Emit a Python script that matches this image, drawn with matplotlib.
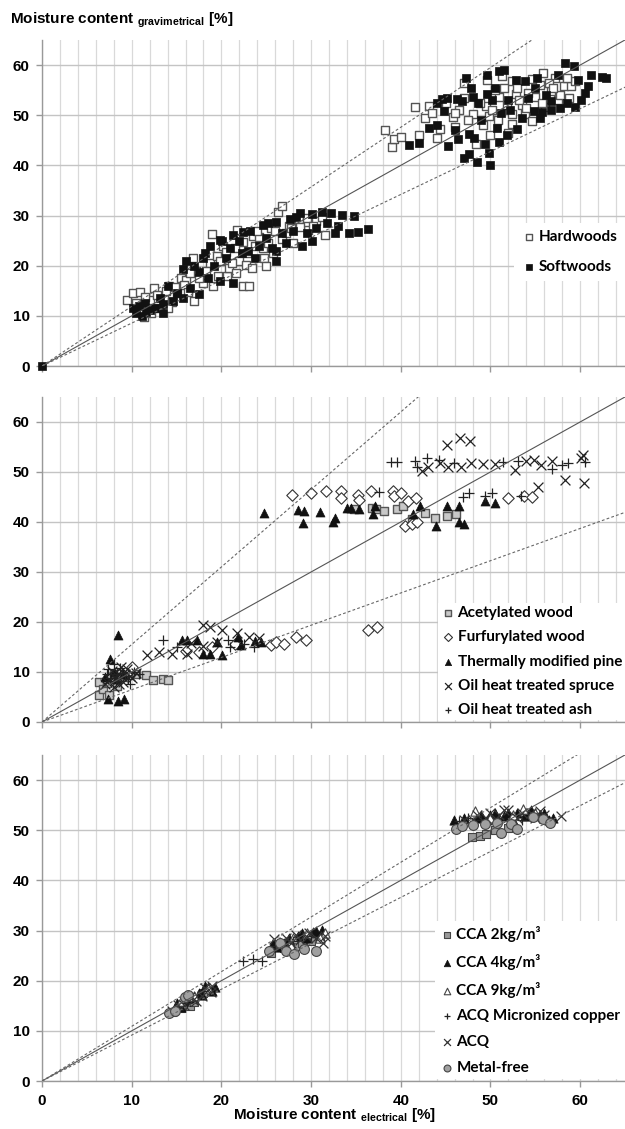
import matplotlib
matplotlib.use("Agg")
import matplotlib.pyplot as plt
from matplotlib.ticker import MultipleLocator

# ---- panel 1: untreated wood
hw_x = [9.5, 10.1, 10.9, 11.4, 11.0, 12.0, 12.5, 13.0, 13.6, 14.2, 14.5, 15.0, 15.5, 16.1, 16.8,
        17.2, 18.0, 18.7, 18.9, 19.1, 19.5, 20.2, 20.6, 20.9, 21.7, 22.0, 22.4, 22.4, 23.1, 22.8,
        23.5, 24.6, 24.8, 25.5, 26.3, 26.8, 26.8, 27.5, 28.6, 29.7, 30.5, 31.2, 31.6, 28.0, 25.0,
        11.5, 12.8, 13.8, 14.8, 15.8, 16.5, 17.5, 18.3, 19.8, 20.5, 21.2, 21.5, 22.9, 23.8, 24.2,
        25.2, 25.8, 26.0, 27.2, 27.8, 28.8, 29.5, 30.2, 24.0, 10.5, 12.2, 14.0, 16.3, 17.0, 19.6,
        21.6, 23.4,
        38.2, 39.0, 39.3, 40.0, 41.6, 43.1, 42.7, 44.4, 45.8, 46.1, 47.0, 48.0, 48.4, 49.5, 49.6,
        49.8, 51.0, 51.3, 52.4, 52.4, 52.4, 52.8, 53.9, 54.6, 54.6, 55.0, 55.9, 56.1, 56.8, 57.2,
        58.2, 59.0, 59.4, 57.5, 53.5, 50.5, 47.0, 44.0,
        45.0, 46.5, 48.8, 50.2, 51.8, 53.0, 54.2, 55.5, 56.5, 57.8, 58.5, 55.8, 53.2, 50.8, 49.2,
        47.5, 46.0, 51.5, 57.0, 58.8, 52.0, 50.0, 54.0, 42.0, 43.5]
hw_y = [13.2, 14.5, 14.8, 9.8, 12.0, 13.1, 15.5, 11.5, 13.3, 16.0, 12.8, 14.6, 17.5, 17.2, 21.5,
        19.0, 16.5, 20.5, 26.4, 15.9, 22.0, 24.0, 17.9, 19.5, 27.2, 21.0, 24.8, 15.9, 15.9, 20.2,
        26.0, 23.5, 21.5, 27.5, 30.7, 32.0, 25.4, 28.0, 29.4, 27.1, 29.0, 29.7, 26.1, 24.5, 20.0,
        13.8, 14.2, 15.0, 15.8, 16.2, 18.5, 17.5, 19.0, 21.0, 22.8, 20.5, 23.5, 22.5, 24.0, 25.8,
        24.5, 22.5, 27.0, 26.5, 27.5, 27.8, 29.5, 28.0, 27.0, 12.5, 10.5, 11.5, 14.8, 13.0, 18.0,
        18.5, 19.5,
        47.1, 43.6, 45.2, 45.6, 51.7, 51.9, 49.5, 47.3, 49.6, 47.6, 56.5, 50.3, 44.3, 51.9, 57.0,
        49.9, 53.6, 57.8, 56.8, 48.3, 50.3, 54.2, 50.3, 48.9, 57.2, 53.6, 58.5, 51.6, 54.9, 57.5,
        55.9, 55.9, 56.9, 53.0, 52.0, 55.0, 53.5, 45.5,
        52.5, 51.0, 52.5, 51.0, 52.0, 55.5, 54.5, 56.0, 56.5, 54.0, 57.5, 52.5, 53.0, 49.0, 48.0,
        49.0, 50.5, 55.5, 55.5, 53.5, 46.5, 46.0, 51.5, 46.0, 50.5]
sw_x = [0.0, 10.1, 10.5, 11.6, 12.0, 13.5, 13.5, 15.7, 15.7, 16.1, 17.5, 17.5, 17.9, 18.7, 19.8,
        19.8, 20.1, 21.3, 21.3, 22.3, 22.4, 23.8, 24.6, 26.1, 26.1, 26.1, 27.6, 28.3, 29.0, 30.1,
        30.1, 31.2, 32.7, 33.4, 34.2, 34.8, 36.4, 14.0, 25.0,
        10.8, 11.2, 12.6, 13.2, 14.6, 15.0, 16.5, 17.0, 18.2, 18.5, 19.2, 20.5, 21.0, 22.0, 23.0,
        23.2, 24.2, 25.2, 25.6, 26.8, 27.2, 28.0, 28.8, 29.5, 30.6, 31.8, 32.2, 33.0, 35.2, 11.5,
        40.9, 42.0, 43.1, 44.6, 44.8, 45.3, 46.3, 46.4, 47.3, 47.6, 47.6, 48.1, 48.5, 49.4, 49.6,
        49.6, 50.0, 50.7, 50.9, 51.0, 51.5, 53.0, 53.9, 54.8, 55.7, 56.8, 56.8, 58.3, 59.3, 59.4,
        60.1, 60.9, 62.4, 62.9, 52.0, 55.0,
        44.0, 45.2, 46.8, 47.8, 48.6, 49.0, 50.2, 50.5, 51.2, 52.2, 52.8, 53.5, 54.2, 55.2, 55.5,
        56.2, 57.5, 57.8, 58.5, 59.8, 60.5, 61.2, 48.2, 49.8, 51.8, 46.0, 47.0, 44.0]
sw_y = [0.0, 11.5, 10.5, 10.8, 11.1, 10.5, 12.3, 13.6, 19.4, 21.0, 14.3, 18.7, 21.6, 23.9, 16.9,
        25.2, 24.9, 16.6, 26.2, 22.6, 26.8, 21.6, 28.1, 28.8, 22.9, 20.9, 29.4, 29.8, 23.9, 30.4,
        24.9, 30.8, 26.5, 30.1, 26.5, 30.0, 27.4, 16.0, 25.5,
        12.0, 10.0, 11.5, 13.5, 13.0, 14.5, 15.5, 20.0, 22.5, 17.5, 20.0, 21.5, 23.5, 25.0, 23.0,
        27.0, 24.0, 28.5, 23.5, 26.5, 24.5, 27.0, 30.5, 26.5, 27.5, 28.5, 30.5, 28.0, 26.8, 12.5,
        44.1, 44.5, 47.5, 53.3, 50.9, 43.9, 53.3, 45.2, 57.4, 42.3, 46.2, 53.6, 40.7, 44.3, 58.1,
        54.2, 40.0, 47.5, 58.8, 44.6, 59.1, 47.2, 56.8, 50.9, 50.7, 52.9, 51.0, 60.5, 59.8, 51.7,
        53.0, 55.9, 57.6, 57.4, 53.0, 55.5,
        52.5, 53.5, 52.8, 55.5, 52.5, 49.0, 53.0, 55.5, 50.5, 51.0, 57.0, 49.5, 53.5, 57.5, 49.5,
        54.0, 58.0, 51.5, 52.5, 57.0, 54.5, 58.0, 45.5, 42.5, 46.0, 47.0, 41.5, 48.0]

# ---- panel 2: modified wood
ac_x = [6.3, 6.3, 6.8, 7.3, 7.5, 8.4, 9.1, 10.5, 11.6, 12.4, 13.5, 14.0, 8.0,
        34.8, 36.8, 37.2, 38.1, 39.6, 40.3, 41.3, 42.7, 43.8, 45.1, 46.2]
ac_y = [8.0, 5.4, 6.5, 7.7, 5.4, 7.1, 9.0, 9.6, 9.3, 8.3, 8.6, 8.4, 9.5,
        42.5, 42.8, 42.5, 42.1, 42.5, 43.1, 40.5, 41.8, 40.8, 41.2, 41.5]
fu_x = [8.5, 10.0, 16.1, 17.5, 19.0, 21.5, 25.5, 26.1, 27.0, 28.3, 29.4, 36.4, 37.3,
        27.9, 30.0, 31.7, 33.3, 33.3, 35.2, 35.3, 36.7, 39.1, 39.3, 40.0, 40.8, 41.7, 40.5, 41.3,
        41.8, 52.0, 53.7, 54.6]
fu_y = [9.5, 11.0, 14.1, 13.9, 15.0, 15.5, 15.3, 16.0, 15.6, 16.9, 16.4, 18.3, 18.9,
        45.3, 45.8, 46.2, 46.1, 44.7, 45.4, 44.3, 46.1, 46.1, 45.1, 45.8, 44.1, 44.7, 39.2, 39.5,
        39.9, 44.8, 45.1, 44.9]
tm_x = [7.4, 8.5, 9.1, 7.6, 8.5, 8.0, 7.0, 8.3, 9.0, 15.6, 16.2, 17.3, 17.9, 18.7, 19.5, 20.1,
        21.9, 22.2, 23.7, 24.4, 24.8, 28.5, 29.2, 29.1, 31.0, 32.4, 32.7, 34.0, 34.4, 35.3, 36.9,
        37.1, 41.4, 42.1, 43.9, 45.2, 46.5, 46.5, 47.0, 49.4, 50.5]
tm_y = [4.5, 4.2, 4.5, 12.5, 17.3, 10.0, 9.0, 8.5, 9.5, 16.4, 16.4, 16.4, 13.6, 13.6, 15.9, 13.3,
        16.9, 15.3, 16.2, 15.9, 41.8, 42.4, 42.2, 39.7, 41.9, 40.0, 40.8, 42.8, 42.8, 42.5, 41.5,
        43.1, 41.5, 43.1, 39.2, 43.1, 43.1, 39.9, 39.5, 44.1, 43.8]
os_x = [7.5, 8.0, 8.5, 9.0, 9.5, 10.0, 8.8, 7.8, 7.2, 8.3, 9.2, 8.6, 9.8, 7.0, 10.5, 8.0,
        11.7, 13.0, 14.5, 16.2, 16.6, 17.9, 17.9, 18.7, 20.1, 21.7, 23.1, 24.2, 19.5,
        42.4, 43.0, 44.4, 45.1, 45.3, 46.6, 46.7, 47.7, 47.8, 49.2, 52.7, 54.0, 54.9, 55.3, 55.6,
        56.9, 58.3, 60.1, 60.3, 60.4, 50.5]
os_y = [8.5, 7.0, 9.5, 8.0, 10.5, 8.8, 11.0, 10.2, 8.0, 8.8, 9.5, 7.5, 9.2, 7.5, 9.8, 9.0,
        13.3, 14.0, 13.6, 13.6, 15.7, 15.1, 19.3, 19.0, 18.3, 17.8, 17.0, 16.7, 16.0,
        50.2, 51.0, 51.7, 55.4, 51.0, 56.7, 51.0, 56.2, 51.7, 51.5, 50.4, 52.1, 52.4, 47.0, 51.3,
        52.2, 48.3, 52.7, 53.3, 47.8, 51.5]
oa_x = [7.2, 8.2, 8.7, 9.3, 9.8, 10.3, 8.0, 7.6, 8.9, 9.6, 10.8, 7.4, 8.4,
        13.5, 15.0, 20.7, 21.0, 23.6, 22.5,
        37.6, 38.9, 39.6, 41.6, 41.8, 42.9, 44.3, 45.9, 46.9, 47.6, 49.4, 50.2, 51.4, 53.1, 53.4,
        56.9, 58.0, 58.7, 60.5]
oa_y = [9.5, 8.2, 10.8, 9.2, 7.5, 10.0, 11.5, 8.8, 9.8, 8.5, 9.5, 10.5, 9.6,
        16.3, 15.0, 16.3, 15.0, 15.0, 15.5,
        45.9, 52.0, 52.0, 52.2, 50.9, 52.7, 52.4, 51.7, 44.9, 45.7, 45.2, 45.8, 52.0, 52.1, 45.1,
        50.6, 51.3, 51.7, 52.0]

# ---- panel 3: preservative treated wood
c2_x = [14.5, 15.5, 16.5, 17.0, 18.0, 25.5, 27.0, 28.5, 30.0, 29.0, 47.9, 48.8, 49.5, 50.5, 52.0]
c2_y = [13.8, 14.5, 15.0, 15.8, 17.5, 25.5, 26.5, 27.0, 28.0, 27.5, 48.6, 48.9, 49.2, 50.0, 50.5]
c4_x = [15.0, 16.0, 17.5, 18.5, 19.0, 15.5, 16.8, 17.8, 18.2, 19.3,
        25.8, 27.5, 29.0, 30.5, 31.0, 26.2, 27.0, 28.5, 29.5, 30.2, 31.2,
        45.9, 48.5, 50.0, 51.5, 53.0, 54.5, 55.5, 56.5, 57.0, 47.0, 49.0, 50.5, 52.0, 53.8, 54.0,
        56.0, 52.5]
c4_y = [15.5, 16.0, 17.5, 18.8, 18.0, 14.8, 16.5, 17.2, 19.0, 18.8,
        27.5, 28.5, 29.5, 30.0, 29.0, 26.8, 27.5, 29.0, 28.5, 29.8, 30.2,
        52.0, 52.5, 53.0, 52.8, 53.5, 54.0, 53.0, 52.0, 52.5, 52.5, 53.0, 53.5, 53.5, 52.8, 53.2,
        53.5, 52.0]
c9_x = [15.5, 17.0, 18.5, 26.5, 28.0, 29.5, 31.6, 31.0, 48.3, 50.0, 52.5, 53.6, 55.0, 56.0]
c9_y = [16.0, 17.0, 18.5, 27.5, 28.5, 29.5, 29.6, 28.5, 53.9, 52.5, 53.0, 54.3, 53.5, 52.5]
am_x = [14.8, 16.2, 18.0, 22.4, 23.5, 24.5, 26.0, 28.0, 30.0,
        46.5, 47.5, 49.0, 51.0, 53.5, 55.5, 56.5]
am_y = [14.5, 15.5, 18.0, 24.0, 24.4, 24.0, 27.0, 28.0, 29.0,
        51.8, 52.5, 52.0, 52.5, 52.0, 52.5, 51.8]
aq_x = [15.2, 16.8, 17.8, 19.0, 15.8, 16.5, 17.2, 18.2, 18.8, 14.5,
        25.9, 27.2, 28.3, 29.5, 31.3, 31.5, 26.5, 27.8, 28.8, 29.8, 30.5, 27.0,
        47.0, 48.5, 50.0, 52.0, 53.0, 54.5, 56.0, 57.9, 48.0, 49.5, 51.0, 51.5, 53.5, 55.0, 55.5,
        50.5]
aq_y = [15.2, 16.2, 17.0, 19.0, 15.2, 16.8, 16.0, 18.5, 17.8, 14.0,
        28.3, 28.6, 29.2, 28.8, 27.6, 29.0, 27.0, 27.5, 28.2, 29.5, 28.5, 27.8,
        52.0, 53.0, 53.5, 54.0, 52.5, 53.5, 53.0, 52.9, 52.0, 52.5, 53.0, 54.0, 53.5, 52.5, 53.8,
        52.0]
mf_x = [14.2, 14.8, 15.9, 16.3, 25.3, 26.5, 27.2, 28.1, 29.2, 30.5,
        46.2, 46.8, 49.4, 50.7, 51.2, 52.3, 53.0, 54.7, 55.9, 56.6, 48.0]
mf_y = [13.6, 14.0, 16.8, 17.2, 26.0, 27.5, 26.0, 25.4, 26.4, 25.9,
        50.3, 50.8, 51.2, 51.5, 49.5, 51.2, 50.2, 52.6, 52.2, 51.5, 51.0]

# slopes of the two dashed limit lines per panel (solid line is 1:1)
line_slopes = [(1.19, 0.855), (1.55, 0.645), (1.09, 0.915)]

LEG_FONT = {"family": "Lato", "weight": "bold", "size": 11}


def style_axes(ax, bottom_labels):
    ax.set_xlim(0, 65)
    ax.set_ylim(0, 65)
    ax.set_xticks(range(0, 61, 10))
    ax.set_yticks(range(0, 61, 10))
    ax.xaxis.set_minor_locator(MultipleLocator(2))
    ax.grid(which="minor", axis="x", color="#d9d9d9", lw=0.9, zorder=0)
    ax.grid(which="major", axis="x", color="#d9d9d9", lw=0.9, zorder=0)
    ax.grid(which="major", axis="y", color="#c4c4c4", lw=1.0, zorder=0)
    ax.set_axisbelow(True)
    for s in ["top", "right"]:
        ax.spines[s].set_visible(False)
    for s in ["left", "bottom"]:
        ax.spines[s].set_color("#999999")
        ax.spines[s].set_linewidth(1.0)
    ax.tick_params(which="major", length=4, color="#999999", width=1, pad=5,
                   labelsize=11)
    ax.tick_params(which="minor", length=0)
    for t in ax.get_yticklabels() + ax.get_xticklabels():
        t.set_fontweight("bold")
        t.set_family("Liberation Sans")
    if not bottom_labels:
        ax.tick_params(axis="x", labelbottom=False)


def draw_lines(ax, slopes):
    up, lo = slopes
    xs = [0, 70]
    ax.plot(xs, [0, 70], color="#555555", lw=0.8, zorder=4)
    ax.plot(xs, [0, 70 * up], color="#666666", lw=0.8, ls=(0, (2.5, 2)), zorder=4)
    ax.plot(xs, [0, 70 * lo], color="#666666", lw=0.8, ls=(0, (2.5, 2)), zorder=4)


def make_legend(ax, anchor, spacing, pad):
    leg = ax.legend(loc="lower right", bbox_to_anchor=anchor, prop=LEG_FONT,
                    frameon=True, fancybox=False, framealpha=1, facecolor="white",
                    edgecolor="none", markerscale=0.7, handletextpad=0.1,
                    handlelength=1.0, labelspacing=spacing, borderpad=pad,
                    borderaxespad=0.0)
    leg.set_zorder(6)
    return leg


def main():
    plt.rcParams["mathtext.fontset"] = "custom"
    plt.rcParams["mathtext.rm"] = "Liberation Sans:bold"
    plt.rcParams["mathtext.bf"] = "Liberation Sans:bold"

    fig = plt.figure(figsize=(6.25, 11.29), dpi=100)
    ax1 = fig.add_axes([0.0672, 0.6758, 0.9328, 0.2888])
    ax2 = fig.add_axes([0.0672, 0.3605, 0.9328, 0.2879])
    ax3 = fig.add_axes([0.0672, 0.0425, 0.9328, 0.2888])

    sq = 40
    # panel 1
    style_axes(ax1, False)
    draw_lines(ax1, line_slopes[0])
    ax1.scatter(hw_x, hw_y, s=sq, marker="s", facecolor="white", edgecolor="#555555",
                lw=1.0, zorder=3, label="Hardwoods")
    ax1.scatter(sw_x, sw_y, s=sq, marker="s", facecolor="#111111", edgecolor="#111111",
                lw=0.5, zorder=3, clip_on=False, label="Softwoods")
    make_legend(ax1, (1.0, 0.26), 1.0, 0.5)

    # panel 2
    style_axes(ax2, False)
    draw_lines(ax2, line_slopes[1])
    ax2.scatter(ac_x, ac_y, s=36, marker="s", facecolor="#c8c8c8", edgecolor="#555555",
                lw=1.0, zorder=3, label="Acetylated wood")
    ax2.scatter(fu_x, fu_y, s=34, marker="D", facecolor="white", edgecolor="#333333",
                lw=0.8, zorder=3, label="Furfurylated wood")
    ax2.scatter(tm_x, tm_y, s=42, marker="^", facecolor="#111111", edgecolor="#111111",
                lw=0.5, zorder=3, label="Thermally modified pine")
    ax2.scatter(os_x, os_y, s=50, marker="x", color="#222222", lw=0.9, zorder=3,
                label="Oil heat treated spruce")
    ax2.scatter(oa_x, oa_y, s=50, marker="+", color="#222222", lw=0.9, zorder=3,
                label="Oil heat treated ash")
    make_legend(ax2, (1.0, 0.005), 0.68, 0.2)

    # panel 3
    style_axes(ax3, True)
    draw_lines(ax3, line_slopes[2])
    ax3.scatter(c2_x, c2_y, s=40, marker="s", facecolor="#999999", edgecolor="#444444",
                lw=0.8, zorder=3, label="CCA 2kg/m\u00b3")
    ax3.scatter(c4_x, c4_y, s=45, marker="^", facecolor="#111111", edgecolor="#111111",
                lw=0.5, zorder=3, label="CCA 4kg/m\u00b3")
    ax3.scatter(c9_x, c9_y, s=45, marker="^", facecolor="white", edgecolor="#444444",
                lw=0.8, zorder=3, label="CCA 9kg/m\u00b3")
    ax3.scatter(am_x, am_y, s=50, marker="+", color="#222222", lw=0.9, zorder=3,
                label="ACQ Micronized copper")
    ax3.scatter(aq_x, aq_y, s=50, marker="x", color="#333333", lw=0.9, zorder=3,
                label="ACQ")
    ax3.scatter(mf_x, mf_y, s=50, marker="o", facecolor="#a0a0a0", edgecolor="#444444",
                lw=0.8, zorder=3, label="Metal-free")
    make_legend(ax3, (1.0, 0.005), 0.77, 0.3)

    fig.text(0.016, 0.982, r"Moisture content $_{\mathbf{gravimetrical}}$ [%]",
             fontsize=11, fontweight="bold", family="Liberation Sans",
             ha="left", va="center")
    fig.text(0.535, 0.012, r"Moisture content $_{\mathbf{electrical}}$ [%]",
             fontsize=11, fontweight="bold", family="Liberation Sans",
             ha="center", va="center")

    fig.savefig("out.png", dpi=100, facecolor="w")
    plt.close(fig)


if __name__ == '__main__':
    main()
